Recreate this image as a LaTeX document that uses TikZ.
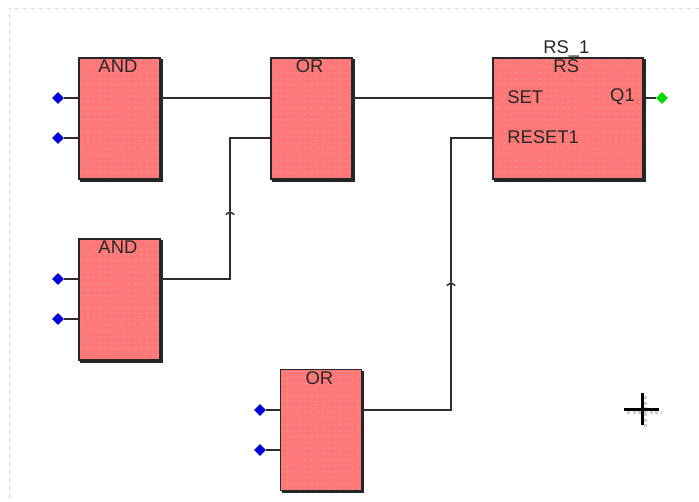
\documentclass[tikz,border=0pt]{standalone}
\usepackage{fontspec}
\setmainfont{Liberation Sans}
\usetikzlibrary{shapes.geometric,arrows.meta,positioning,patterns.meta}
\definecolor{blockred}{RGB}{255,120,120}
\definecolor{blockdot}{RGB}{255,160,160}
\definecolor{wiregray}{RGB}{45,45,45}
\definecolor{framegray}{RGB}{222,215,210}

\begin{document}
\begin{tikzpicture}[x=0.75pt,y=-0.75pt,
  fblock/.style={draw=black!85,line width=1.1pt,inner sep=0pt,
    minimum width=60.75pt,minimum height=90.75pt,
    preaction={draw=black!85,fill=black!85,transform canvas={xshift=1.5pt,yshift=-1.5pt}},
    preaction={fill=blockred},
    preaction={pattern={Dots[distance=4.4pt,radius=0.55pt]},pattern color=blockdot}},
  title/.style={anchor=north,inner sep=0pt,font=\fontsize{13.8}{15}\selectfont,text=black!85},
  portname/.style={inner sep=0pt,font=\fontsize{13.8}{15}\selectfont,text=black!85},
  inpin/.style={diamond,fill=blue!85!black,inner sep=0pt,minimum size=9pt},
  outpin/.style={diamond,fill=green!85!black,inner sep=0pt,minimum size=9pt},
  wire/.style={line width=1.1pt,wiregray},
  flow/.style={wire,-{Straight Barb[length=2pt,width=6.5pt]}},
  cursorline/.style={line width=2.25pt,black},
  cursorshade/.style={line width=2.25pt,black!20,dotted},
  framing/.style={line width=0.75pt,framegray,dashed},
  node distance=44pt,
]
  \useasboundingbox (0,0) rectangle (699,501);
  \draw[framing] (699,8) -- (9,8) -- (9,501);

  \node[fblock] (and1) at (119.5,118.5) {};
  \node[fblock,below=of and1] (and2) {};
  \node[fblock,right=82pt of and1] (or1) {};
  \node[fblock,minimum width=112.5pt,right=104.7pt of or1] (rs) {};
  \node[fblock,at={(321,430)}] (or2) {};

  \node[title] at ([xshift=-1.2pt,yshift=-1.8pt]and1.north) {AND};
  \node[title] at ([xshift=-1.2pt,yshift=-1.8pt]and2.north) {AND};
  \node[title] at ([xshift=-1.2pt,yshift=-1.8pt]or1.north) {OR};
  \node[title] at ([xshift=-1.2pt,yshift=-1.8pt]or2.north) {OR};
  \node[title] at ([xshift=-1.2pt,yshift=-1.8pt]rs.north) {RS};
  \node[title,anchor=south] at ([xshift=-1.2pt,yshift=-0.4pt]rs.north) {RS\_1};

  \node[inpin] (i1) at (58,98) {};
  \node[inpin] (i2) at (58,138) {};
  \node[inpin] (i3) at (58,279) {};
  \node[inpin] (i4) at (58,319) {};
  \node[inpin] (i5) at (260,410) {};
  \node[inpin] (i6) at (260,450) {};
  \node[outpin] (q1) at (662,98) {};

  \node[portname,anchor=west] at (507,97) {SET};
  \node[portname,anchor=west] at (507,137) {RESET1};
  \node[portname,anchor=east] at (635,97) {Q1};

  \coordinate (up1) at (230,211);
  \coordinate (up2) at (451,282);

  \draw[wire] (i1) -- (and1.west |- i1);
  \draw[wire] (i2) -- (and1.west |- i2);
  \draw[wire] (i3) -- (and2.west |- i3);
  \draw[wire] (i4) -- (and2.west |- i4);
  \draw[wire] (i5) -- (or2.west |- i5);
  \draw[wire] (i6) -- (or2.west |- i6);
  \draw[wire] (and1.east |- i1) -- (or1.west |- i1);
  \draw[wire] (or1.east |- i1) -- (rs.west |- i1);
  \draw[flow] (and2.east |- i3) -| (up1);
  \draw[wire] (up1) |- (or1.west |- i2);
  \draw[flow] (or2.east |- i5) -| (up2);
  \draw[wire] (up2) |- (rs.west |- i2);
  \draw[wire] (rs.east |- q1) -- (q1);

  \draw[cursorshade] (627,412) -- (662,412) (645,396) -- (645,428);
  \draw[cursorline] (624,409) -- (659,409) (642,393) -- (642,425);
\end{tikzpicture}
\end{document}
